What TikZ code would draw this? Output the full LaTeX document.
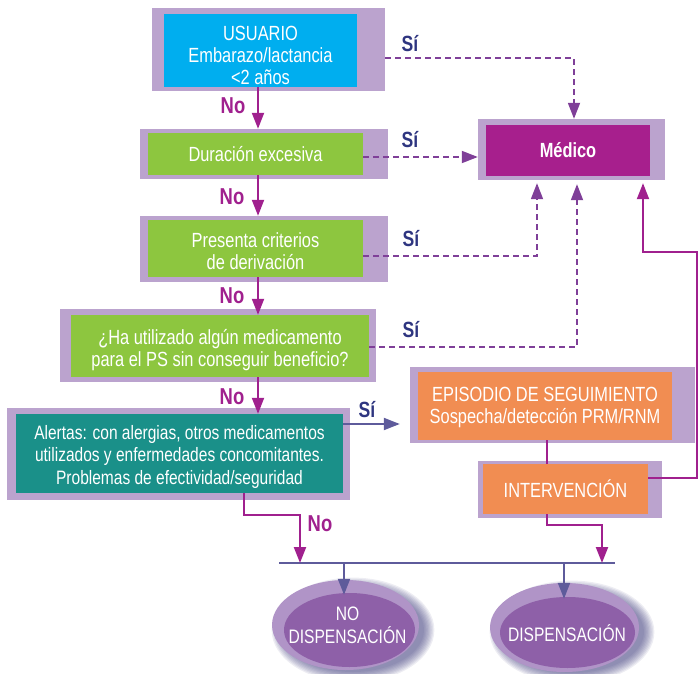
\documentclass[tikz,border=0pt]{standalone}
\usepackage{fontspec}
\setmainfont{Liberation Sans}[FakeStretch=0.8]
\usetikzlibrary{arrows.meta,shapes.geometric}
\definecolor{frameC}{HTML}{BBA3CE}
\definecolor{cyanC}{HTML}{00AEEF}
\definecolor{greenC}{HTML}{8DC63F}
\definecolor{tealC}{HTML}{1A9089}
\definecolor{orangeC}{HTML}{F18D52}
\definecolor{medC}{HTML}{A71F8D}
\definecolor{magC}{HTML}{A0208E}
\definecolor{dashC}{HTML}{7F3F98}
\definecolor{navyC}{HTML}{2E3580}
\definecolor{slateC}{HTML}{5E5B9B}
\definecolor{ellOut}{HTML}{B094C7}
\definecolor{ellIn}{HTML}{8E60A8}
\definecolor{shadowC}{HTML}{3C3A7A}
\newcommand{\topstrut}[1]{\rule{0pt}{#1pt}}
\begin{document}
\begin{tikzpicture}[x=1pt,y=-1pt,
  frame/.style={fill=frameC, inner sep=0pt, anchor=center},
  box/.style={inner sep=0pt, text=white, align=center, font=\fontsize{20.5}{22}\selectfont},
  silabel/.style={text=navyC, inner sep=0pt, font=\bfseries\fontsize{22}{22}\selectfont},
  nolabel/.style={text=magC, inner sep=0pt, font=\bfseries\fontsize{23}{22}\selectfont},
  noarrow/.style={draw=magC, line width=2.2pt, -{Triangle[length=16pt,width=12pt]}},
  magline/.style={draw=magC, line width=2pt},
  dasharrow/.style={draw=dashC, line width=1.8pt, dash pattern=on 6pt off 4pt, -{Triangle[length=16pt,width=12pt]}},
  slatearrow/.style={draw=slateC, line width=2pt, -{Triangle[length=16pt,width=12pt]}},
  slateline/.style={draw=slateC, line width=2.2pt},
  ellouter/.style={ellipse, fill=ellOut, inner sep=0pt},
  ellinner/.style={ellipse, fill=ellIn, inner sep=0pt},
  elltext/.style={text=white, align=center, inner sep=0pt, font=\fontsize{19.5}{23}\selectfont}
]
\useasboundingbox (0,0) rectangle (699,674);

% helper coordinates
\coordinate (x258) at (258,0);
\coordinate (y58) at (0,58);
\coordinate (y157) at (0,157);
\coordinate (y256) at (0,256);
\coordinate (y347) at (0,347);
\coordinate (y424) at (0,424);
\coordinate (y478) at (0,478);
\coordinate (y515) at (0,515);
\coordinate (y525) at (0,525);
\coordinate (x574) at (574,0);
\coordinate (x537) at (537,0);
\coordinate (x577) at (577,0);
\coordinate (x643) at (643,0);
\coordinate (x244) at (244,0);
\coordinate (x300) at (300,0);
\coordinate (x547) at (547,0);
\coordinate (x602) at (602,0);
\coordinate (rc) at (697,252);

% boxes
\node[frame, minimum width=233pt, minimum height=83pt] (usuF) at (268.5,49.5) {};
\node[box, fill=cyanC, minimum width=193pt, minimum height=73pt] (usu) at (260.5,50.5) {\topstrut{25}USUARIO\\Embarazo/lactancia\\<2 años};

\node[frame, minimum width=248pt, minimum height=50pt] (durF) at (264,154) {};
\node[box, fill=greenC, minimum width=215pt, minimum height=42pt] (dur) at (255.5,154) {Duración excesiva};

\node[frame, minimum width=248pt, minimum height=66pt] (preF) at (264,249) {};
\node[box, fill=greenC, minimum width=215pt, minimum height=57pt] (pre) at (255.5,248.5) {\topstrut{21}Presenta criterios\\de derivación};

\node[frame, minimum width=316pt, minimum height=73pt] (haF) at (218,345.5) {};
\node[box, fill=greenC, minimum width=298pt, minimum height=62pt] (ha) at (220,346) {\topstrut{23}¿Ha utilizado algún medicamento\\para el PS sin conseguir beneficio?};

\node[frame, minimum width=343pt, minimum height=92pt] (aleF) at (178.5,454) {};
\node[box, fill=tealC, minimum width=327pt, minimum height=79pt, font=\fontsize{19.4}{22.5}\selectfont] (ale) at (179.5,453.5) {\topstrut{21}Alertas: con alergias, otros medicamentos\\utilizados y enfermedades concomitantes.\\Problemas de efectividad/seguridad};

\node[frame, minimum width=187pt, minimum height=61pt] (medF) at (571.5,149.5) {};
\node[box, fill=medC, minimum width=164pt, minimum height=51pt, font=\bfseries\fontsize{20.5}{22}\selectfont] (med) at (568,150.5) {Médico};

\node[frame, minimum width=285pt, minimum height=76pt] (epiF) at (552.5,405) {};
\node[box, fill=orangeC, minimum width=254pt, minimum height=68pt] (epi) at (545,406) {\topstrut{18}EPISODIO DE SEGUIMIENTO\\Sospecha/detección PRM/RNM};

\node[frame, minimum width=184pt, minimum height=57pt] (intF) at (570,489.5) {};
\node[box, fill=orangeC, minimum width=165pt, minimum height=50pt] (int) at (565.5,489) {INTERVENCIÓN};

% ellipses with soft shadows
\foreach \k in {0,...,8} {
  \fill[shadowC, opacity=0.09] (353,630) ellipse ({71+\k*1.3} and {42+\k*1.3});
  \fill[shadowC, opacity=0.09] (572,632) ellipse ({72+\k*1.3} and {41+\k*1.3});
}
\node[ellouter, minimum width=147pt, minimum height=90pt] (ndO) at (345.5,625) {};
\node[ellinner, minimum width=131pt, minimum height=74pt] (ndI) at (349.5,630) {};
\node[elltext] (ndT) at (347.5,625) {NO\\DISPENSACIÓN};

\node[ellouter, minimum width=149pt, minimum height=89pt] (dO) at (564.5,627.5) {};
\node[ellinner, minimum width=135pt, minimum height=71pt] (dI) at (567.5,632.5) {};
\node[elltext] (dT) at (567,633) {DISPENSACIÓN};

% No arrows
\draw[noarrow] (usu.south -| x258) -- (durF.north -| x258);
\draw[noarrow] (dur.south -| x258) -- (preF.north -| x258);
\draw[noarrow] (pre.south -| x258) -- (ha.north -| x258);
\draw[noarrow] (ha.south -| x258) -- (ale.north -| x258);

% dashed Si arrows to Medico
\draw[dasharrow] (usuF.east |- y58) -| (medF.north -| x574);
\draw[dasharrow] (dur.east |- y157) -- (medF.west |- y157);
\draw[dasharrow, shorten >=3pt] (pre.east |- y256) -| (medF.south -| x537);
\draw[dasharrow, shorten >=4pt] (ha.east |- y347) -| (medF.south -| x577);

% Alertas -> Episodio
\draw[slatearrow, shorten >=10pt] (ale.east |- y424) -- (epiF.west |- y424);

% Episodio -> Intervencion
\draw[magline] (epi.south -| x547) -- (int.north -| x547);

% Intervencion -> Medico
\draw[noarrow, line width=2pt, shorten >=3pt] (int.east |- y478) -| (rc) -| (medF.south -| x643);

% bar
\coordinate (barL) at (279,563);
\coordinate (barR) at (615,563);
\coordinate (b1) at (344,563);
\coordinate (b2) at (564,563);
\draw[slateline] (barL) -- (barR);

\draw[noarrow] (ale.south -| x244) |- (y515 -| x300) -- (barL -| x300);
\draw[noarrow] (int.south -| x547) |- (y525 -| x602) -- (barL -| x602);

\draw[slatearrow] (b1) -- ([yshift=-2pt]ndI.north -| b1);
\draw[slatearrow] (b2) -- ([yshift=-2pt]dI.north -| b2);

% labels
\node[silabel] (s1) at (410,44) {Sí};
\node[silabel] (s2) at (410,140) {Sí};
\node[silabel] (s3) at (411,239) {Sí};
\node[silabel] (s4) at (411,330) {Sí};
\node[silabel] (s5) at (367,410) {Sí};

\node[nolabel] (n1) at (233,106) {No};
\node[nolabel] (n2) at (232,197) {No};
\node[nolabel] (n3) at (232,296) {No};
\node[nolabel] (n4) at (232,397) {No};
\node[nolabel] (n5) at (320,524) {No};
\end{tikzpicture}
\end{document}
